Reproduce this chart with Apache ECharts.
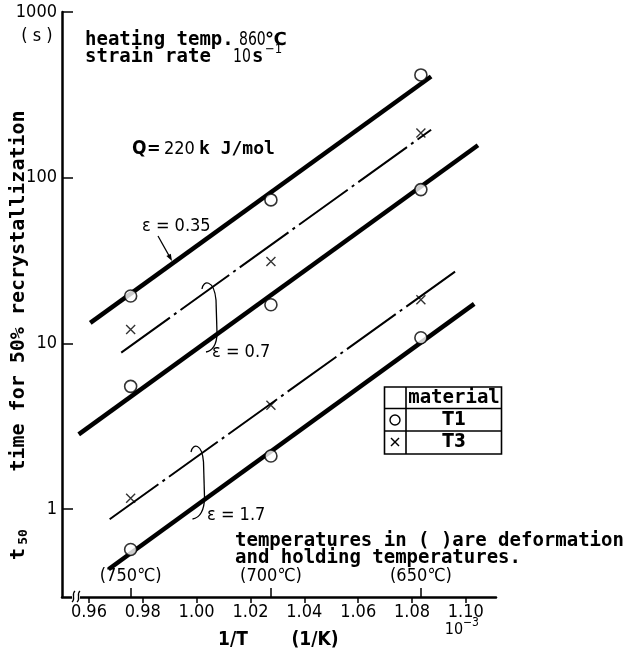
<!DOCTYPE html>
<html>
<head>
<meta charset="utf-8">
<script src="https://cdn.jsdelivr.net/npm/echarts@6.0.0/dist/echarts.min.js"></script>
<style>
html, body { margin: 0; padding: 0; background: #fff; }
#chart { width: 636px; height: 650px; }
</style>
</head>
<body>
<div id="chart"></div>
<script>
// 1/T (10^-3 1/K) de las temperaturas de deformacion
const invT = [0.9755, 1.0276, 1.0833];
const tempLabels = ['(750℃)', '(700℃)', '(650℃)'];
const xTickValues = [0.96, 0.98, 1.00, 1.02, 1.04, 1.06, 1.08, 1.10];
const yTickValues = [1, 10, 100, 1000];

// t50 (s)
const t1Eps035 = [19.3, 73.4, 417];
const t1Eps07 = [5.5, 17.1, 84.7];
const t1Eps17 = [0.57, 2.09, 10.8];
const t3Eps07 = [12.1, 31.2, 186];
const t3Eps17 = [1.16, 4.23, 18.3];

// rectas ajustadas: extremos [inicio, fin]
const fitX035 = [0.9605, 1.0871], fitY035 = [13.3, 408];
const fitX07T3 = [0.9720, 1.0871], fitY07T3 = [8.79, 194.6];
const fitX07T1 = [0.9562, 1.1045], fitY07T1 = [2.82, 157];
const fitX17T3 = [0.9677, 1.0971], fitY17T3 = [0.867, 27.9];
const fitX17T1 = [0.9673, 1.1031], fitY17T1 = [0.433, 17.3];

const NARROW = "'Liberation Sans Narrow', 'DejaVu Sans Condensed', 'Liberation Sans', sans-serif";
const MONO = "'DejaVu Sans Mono', monospace";

function fitLine(xs, ys, dashed) {
    return {
        type: 'line',
        data: [[xs[0], ys[0]], [xs[1], ys[1]]],
        symbol: 'none',
        silent: true,
        z: 2,
        lineStyle: dashed
            ? { color: '#000', width: 2, type: [60, 5, 3, 5] }
            : { color: '#000', width: 4.5 }
    };
}

function points(values) {
    return invT.map((x, i) => [x, values[i]]);
}

// etiqueta de temperatura para un valor de 1/T
function tempLabel(v) {
    let best = 0;
    invT.forEach((x, i) => { if (Math.abs(x - v) < Math.abs(invT[best] - v)) best = i; });
    return tempLabels[best];
}

const circleStyle = { color: '#fff', borderColor: '#000', borderWidth: 1.6 };
const crossStyle = { color: 'transparent', borderColor: '#000', borderWidth: 1.4 };
const CROSS = 'path://M0,0L10,10M10,0L0,10';

function txt(text, x, y, opts) {
    return {
        type: 'text', x: x, y: y, z: 10,
        rotation: (opts && opts.rotation) || 0,
        scaleX: (opts && opts.scaleX) || 1,
        style: Object.assign({
            text: text, fill: '#000', fontSize: 19, fontWeight: 'bold', fontFamily: MONO,
            align: 'left', verticalAlign: 'middle'
        }, opts && opts.style)
    };
}
const narrow = (size, align) => ({ fontFamily: NARROW, fontWeight: 'normal', fontSize: size || 18, align: align || 'left' });
const stroke = w => ({ fill: 'none', stroke: '#000', lineWidth: w || 1.3 });
function seg(x1, y1, x2, y2, w) {
    return { type: 'line', z: 10, shape: { x1, y1, x2, y2 }, style: stroke(w) };
}
function curve(x1, y1, cpx1, cpy1, cpx2, cpy2, x2, y2, w) {
    return { type: 'bezierCurve', z: 11, shape: { x1, y1, cpx1, cpy1, cpx2, cpy2, x2, y2 }, style: stroke(w) };
}

const chart = echarts.init(document.getElementById('chart'));

const gridBox = { left: 62, top: 12, right: 140, bottom: 53, outerBoundsMode: 'none' };

const option = {
    animation: false,
    backgroundColor: '#fff',
    grid: [Object.assign({}, gridBox), Object.assign({}, gridBox)],
    xAxis: [{
        type: 'value', gridIndex: 0, min: 0.95, max: 1.1112,
        axisLine: { show: true, onZero: false, lineStyle: { color: '#000', width: 2.5 } },
        axisTick: { show: true, customValues: xTickValues, length: 6, lineStyle: { color: '#000', width: 1.5 } },
        axisLabel: { customValues: xTickValues, formatter: v => v.toFixed(2), margin: 6, fontSize: 18, fontFamily: NARROW, color: '#000' },
        splitLine: { show: false }
    }, {
        // eje auxiliar con las temperaturas de deformacion
        type: 'value', gridIndex: 1, position: 'bottom', min: 0.95, max: 1.1112,
        axisLine: { show: false, onZero: false },
        axisTick: { show: true, inside: true, customValues: invT, length: 9, lineStyle: { color: '#000', width: 1.5 } },
        axisLabel: { inside: true, customValues: invT, formatter: v => tempLabel(v), margin: 12, fontSize: 18, fontFamily: NARROW, color: '#000' },
        splitLine: { show: false }
    }],
    yAxis: [{
        type: 'log', gridIndex: 0, logBase: 10, min: 0.2943, max: 1000,
        axisLine: { show: true, onZero: false, lineStyle: { color: '#000', width: 2.5 } },
        axisTick: { show: true, inside: true, customValues: yTickValues, length: 11, lineStyle: { color: '#000', width: 1.5 } },
        axisLabel: { customValues: yTickValues, formatter: v => String(Math.round(v)), margin: 5, fontSize: 18, fontFamily: NARROW, color: '#000' },
        splitLine: { show: false }
    }, {
        type: 'value', gridIndex: 1, show: false
    }],
    series: [
        fitLine(fitX035, fitY035, false),
        fitLine(fitX07T3, fitY07T3, true),
        fitLine(fitX07T1, fitY07T1, false),
        fitLine(fitX17T3, fitY17T3, true),
        fitLine(fitX17T1, fitY17T1, false),
        { type: 'scatter', z: 3, symbol: 'circle', symbolSize: 12, itemStyle: circleStyle, data: points(t1Eps035) },
        { type: 'scatter', z: 3, symbol: 'circle', symbolSize: 12, itemStyle: circleStyle, data: points(t1Eps07) },
        { type: 'scatter', z: 3, symbol: 'circle', symbolSize: 12, itemStyle: circleStyle, data: points(t1Eps17) },
        { type: 'scatter', z: 3, symbol: CROSS, symbolSize: 9, itemStyle: crossStyle, data: points(t3Eps07) },
        { type: 'scatter', z: 3, symbol: CROSS, symbolSize: 9, itemStyle: crossStyle, data: points(t3Eps17) }
    ],
    graphic: [
        // textos de condiciones
        txt('heating temp.', 85, 40),
        txt('860', 239, 40, { scaleX: 0.82, style: narrow(19) }),
        txt('℃', 265, 40, { style: { fontFamily: 'DejaVu Sans', fontSize: 18 } }),
        txt('strain rate', 85, 57),
        txt('10', 233, 57, { scaleX: 0.82, style: narrow(19) }),
        txt('s', 252, 57),
        txt('−1', 265, 50, { style: narrow(13) }),
        txt('( s )', 37, 36, { style: narrow(18, 'center') }),
        txt('Q', 132, 149, { style: { fontFamily: NARROW, fontSize: 19 } }),
        txt('=', 147, 149, { style: { fontFamily: NARROW, fontSize: 18 } }),
        txt('220', 164, 149, { style: narrow(18) }),
        txt('k J/mol', 199, 149, { style: { fontSize: 18 } }),
        txt('ε = 0.35', 142, 226, { style: narrow(18) }),
        txt('ε = 0.7', 212, 352, { style: narrow(18) }),
        txt('ε = 1.7', 207, 515, { style: narrow(18) }),
        txt('temperatures in ( )are deformation', 235, 541),
        txt('and holding temperatures.', 235, 558),
        txt('10', 454, 630, { style: narrow(16, 'center') }),
        txt('−3', 463, 623, { style: narrow(12) }),
        txt('1/T', 233, 640, { style: { fontFamily: NARROW, fontSize: 19, align: 'center' } }),
        txt('(1/K)', 315, 640, { style: { fontFamily: NARROW, fontSize: 19, align: 'center' } }),
        // titulo eje y
        txt('time for 50% recrystallization', 19, 291, { rotation: Math.PI / 2, style: { align: 'center', fontSize: 20 } }),
        txt('t', 19, 554, { rotation: Math.PI / 2, style: { align: 'center', fontSize: 20 } }),
        txt('50', 24, 537, { rotation: Math.PI / 2, style: { align: 'center', fontSize: 13 } }),
        // flecha eps 0.35
        seg(158, 236, 169.5, 256.5),
        { type: 'polygon', z: 10, shape: { points: [[172, 261], [170.8, 253.7], [166.4, 256.1]] }, style: { fill: '#000' } },
        // llaves eps 0.7 y 1.7
        curve(202, 289, 203, 280, 214, 279, 216, 300),
        seg(216, 300, 217, 333),
        curve(217, 333, 217, 345, 212, 351, 206, 352),
        curve(191, 452, 193, 443, 202, 443, 203.5, 462),
        seg(203.5, 462, 204.5, 497),
        curve(204.5, 497, 204.5, 510, 200, 518, 192.5, 519),
        // corte del eje x
        { type: 'rect', z: 10, shape: { x: 72, y: 594, width: 8, height: 6 }, style: { fill: '#fff' } },
        curve(72, 602, 76, 599, 71, 594, 75, 591),
        curve(77, 602, 81, 599, 76, 594, 80, 591),
        // tabla de materiales
        { type: 'rect', z: 10, shape: { x: 384.5, y: 387, width: 117, height: 67 }, style: stroke(1.6) },
        seg(384.5, 408.5, 501.5, 408.5, 1.4),
        seg(384.5, 431, 501.5, 431, 1.4),
        seg(406, 387, 406, 454, 1.6),
        { type: 'circle', z: 10, shape: { cx: 395, cy: 420, r: 5 }, style: { fill: '#fff', stroke: '#000', lineWidth: 1.4 } },
        seg(391, 438, 399, 446, 1.4),
        seg(399, 438, 391, 446, 1.4),
        txt('material', 454, 398, { style: { align: 'center' } }),
        txt('T1', 454, 420, { style: { align: 'center', fontFamily: NARROW, fontSize: 19 } }),
        txt('T3', 454, 442, { style: { align: 'center', fontFamily: NARROW, fontSize: 19 } })
    ]
};

chart.setOption(option);
</script>
</body>
</html>
